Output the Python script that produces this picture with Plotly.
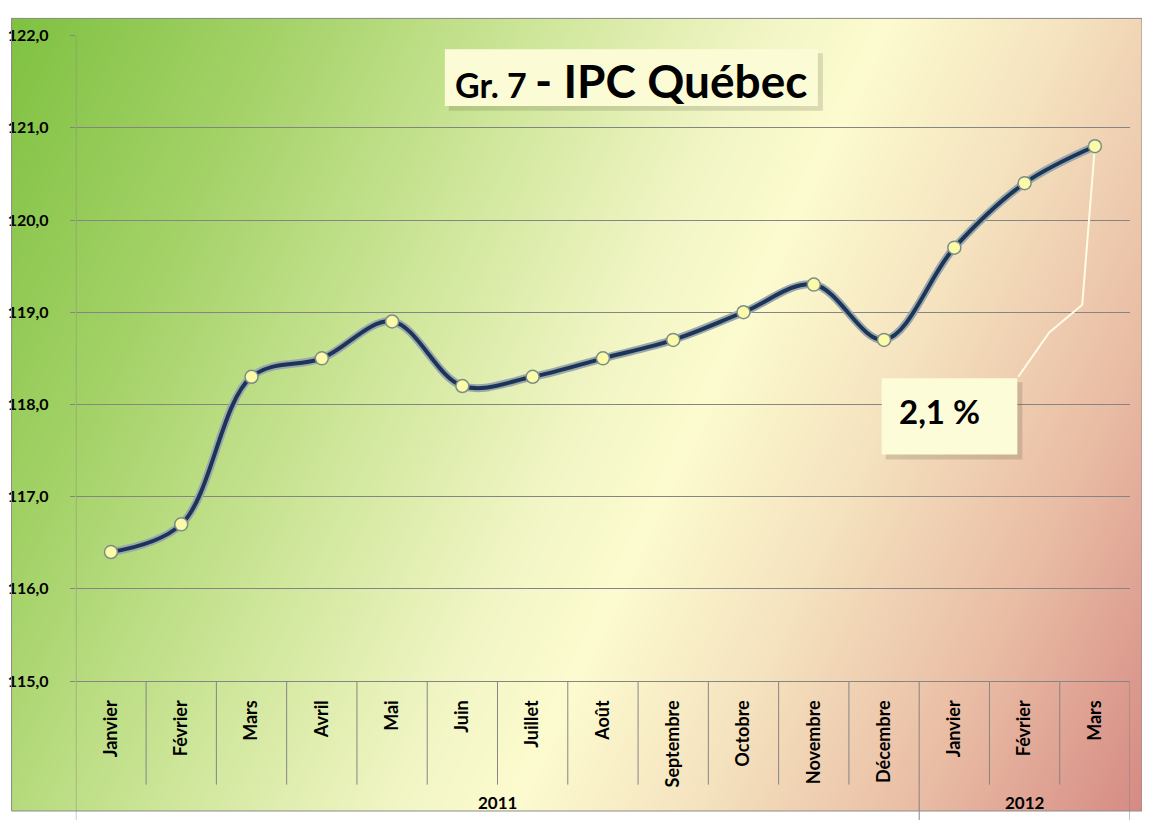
import pandas as pd
import numpy as np
import plotly.graph_objects as go


# Datos del IPC Québec (indice mensual)
datos = pd.DataFrame({
    'mes': ['Janvier', 'Février', 'Mars', 'Avril', 'Mai', 'Juin', 'Juillet', 'Août', 'Septembre',
            'Octobre', 'Novembre', 'Décembre', 'Janvier', 'Février', 'Mars'],
    'anio': [2011]*12 + [2012]*3,
    'ipc': [116.4, 116.7, 118.3, 118.5, 118.9, 118.2, 118.3, 118.5, 118.7, 119.0, 119.3, 118.7,
            119.7, 120.4, 120.8]})

# Dimensiones de la figura (px) y desplazamiento en la pagina
W, H = 1134, 812
MX, MY = 8, 8


# Funcion para el fondo degradado (verde -> amarillo -> rosa)
def fondo(fig):
    escala = [[0.0, '#7fc141'], [0.18, '#a4d268'], [0.36, '#d0e79c'], [0.5, '#f1f5c4'],
              [0.58, '#fcfbcf'], [0.7, '#f5e3bf'], [0.85, '#e9bca4'], [1.0, '#d58a83']]
    fig.add_trace(go.Heatmap(z=[[0.25, 1.0], [0.0, 0.75]], x=[0, 1], y=[0, 1], colorscale=escala,
                             zmin=0, zmax=1, zsmooth='best', showscale=False, hoverinfo='skip',
                             xaxis='x', yaxis='y'))
    fig.update_layout(xaxis=dict(domain=[0, 1], range=[0, 1], visible=False, fixedrange=True),
                      yaxis=dict(domain=[0, 1], range=[0, 1], visible=False, fixedrange=True))
    return fig


# Funcion para convertir pixeles de la imagen a coordenadas de papel
def px(x=None, y=None):
    if x is not None:
        return (x - MX) / W
    return 1 - (y - MY) / H


# Funcion para graficar el IPC
def grafica_ipc(data):
    fig = go.Figure()
    fig = fondo(fig)
    x = list(range(len(data)))
    gris = '#858585'
    fuente = dict(family='Lato', size=18, color='black', weight='bold')

    # Linea suavizada con borde claro y marcadores
    fig.add_trace(go.Scatter(x=x, y=data.ipc, mode='lines', line=dict(color='#9aa7ad', width=8, shape='spline'),
                             xaxis='x2', yaxis='y2', hoverinfo='skip', showlegend=False))
    fig.add_trace(go.Scatter(x=x, y=data.ipc, mode='lines+markers', name='IPC',
                             line=dict(color='#1c3557', width=4, shape='spline'),
                             marker=dict(size=13, color='#fafaa8', line=dict(color='#7d8e86', width=1.5)),
                             xaxis='x2', yaxis='y2', showlegend=False))

    fig.update_layout(
        xaxis2=dict(domain=[px(x=73), px(x=1130)], range=[-0.5, len(data) - 0.5], anchor='y2',
                    tickvals=x, ticktext=data.mes, tickangle=-90, tickfont=fuente, ticks='',
                    showgrid=False, zeroline=False, showline=True, linecolor=gris, linewidth=1,
                    ticklabelstandoff=11, fixedrange=True),
        yaxis2=dict(domain=[px(y=687), px(y=26)], range=[115, 122], dtick=1, tickformat='.1f', anchor='x2',
                    gridcolor=gris, gridwidth=1, ticks='outside', ticklen=5, tickcolor=gris,
                    tickfont=dict(family='Lato', size=16, color='black', weight='bold'),
                    ticklabelstandoff=18, zeroline=False, showline=False, fixedrange=True),
        separators=', ',
        width=W, height=H, autosize=False,
        margin=dict(l=0, r=0, t=0, b=0, pad=0),
        paper_bgcolor='white', plot_bgcolor='rgba(0,0,0,0)',
        showlegend=False)

    # Eje vertical y separadores de categorias
    fig.add_shape(type='line', xref='x2', yref='paper', x0=-0.5, x1=-0.5, y0=px(y=832), y1=px(y=26),
                  line=dict(color=gris, width=1))
    cambios = [i for i in range(1, len(data)) if data.anio[i] != data.anio[i - 1]]
    for i in range(1, len(data) + 1):
        largo = i in cambios or i == len(data)
        fig.add_shape(type='line', xref='x2', yref='paper', x0=i - 0.5, x1=i - 0.5,
                      y0=px(y=832) if largo else px(y=793), y1=px(y=687), line=dict(color=gris, width=1))

    # Etiquetas de los anios
    for anio, grupo in data.groupby('anio'):
        fig.add_annotation(x=np.mean(grupo.index), y=px(y=811), xref='x2', yref='paper', text=str(anio),
                           xanchor='center', yanchor='middle', showarrow=False,
                           font=dict(family='Lato', size=17, color='black', weight='bold'))

    # Titulo en recuadro con sombra
    fig.add_shape(type='rect', xref='paper', yref='paper', x0=px(x=447), x1=px(x=822), y0=px(y=103), y1=px(y=44),
                  fillcolor='rgba(80,80,60,0.18)', line=dict(width=0))
    fig.add_shape(type='rect', xref='paper', yref='paper', x0=px(x=443), x1=px(x=817), y0=px(y=98), y1=px(y=40),
                  fillcolor='#fbfcd6', line=dict(width=0))
    fig.add_annotation(x=px(x=630), y=px(y=72), xref='paper', yref='paper', showarrow=False,
                       xanchor='center', yanchor='middle',
                       text='Gr. 7 <span style="font-size:46px">- IPC Québec</span>',
                       font=dict(family='Lato', size=34, color='black', weight='bold'))

    # Recuadro de variacion anual con linea guia
    fig.add_shape(type='path', xref='x2', yref='y2', layer='between',
                  path='M 12.91,118.30 L 13.35,118.78 L 13.82,119.08 L %d,%s' % (x[-1], data.ipc.iloc[-1]),
                  line=dict(color='#fffbe4', width=2))
    fig.add_shape(type='rect', xref='paper', yref='paper', x0=px(x=885), x1=px(x=1022), y0=px(y=460), y1=px(y=381),
                  fillcolor='rgba(80,80,60,0.2)', line=dict(width=0))
    fig.add_shape(type='rect', xref='paper', yref='paper', x0=px(x=881), x1=px(x=1017), y0=px(y=455), y1=px(y=377),
                  fillcolor='#fcfcd8', line=dict(width=0))
    fig.add_annotation(x=px(x=939), y=px(y=410), xref='paper', yref='paper', showarrow=False, text='2,1 %',
                       xanchor='center', yanchor='middle',
                       font=dict(family='Lato', size=33, color='black', weight='bold'))

    # Marco exterior
    fig.add_shape(type='rect', xref='paper', yref='paper', x0=0.0005, x1=1, y0=0, y1=0.9995,
                  line=dict(color='#8c8c8c', width=1))
    return fig


fig = grafica_ipc(datos)
fig.write_html("out.html")
